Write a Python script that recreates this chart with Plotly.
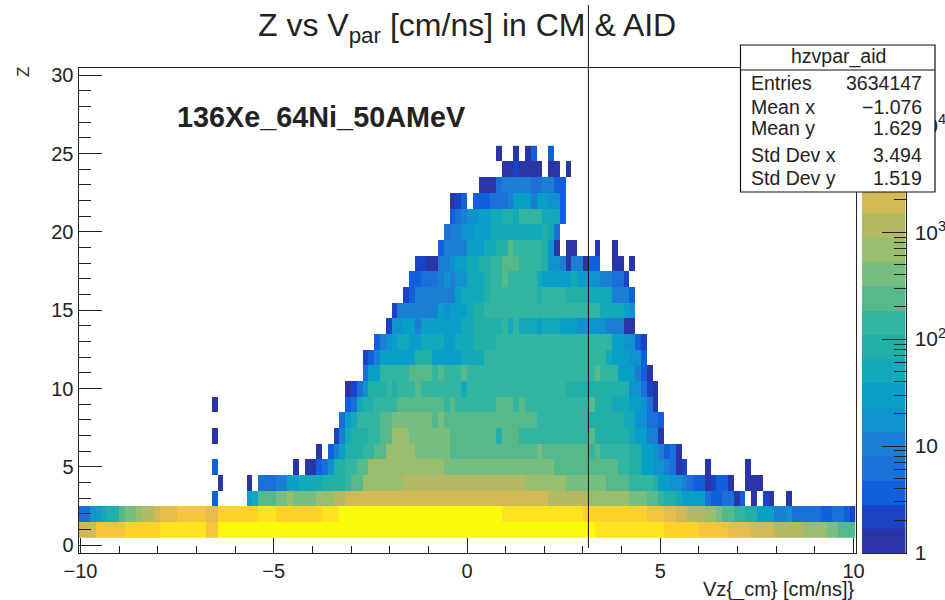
import numpy as np
import plotly.graph_objects as go

# Band colours of the palette, bottom (1 count) to top
band_colors = ["#2a35a8","#1a42c4","#105fdc","#1a70d8","#1c7ed2","#0f92cd","#08a0c8","#12aabb","#22afa8","#33b4a0",
               "#55b98c","#78be80","#98be6e","#b4b964","#d2b955","#e6bd4b","#f5c63c","#ffd22a","#fde41e","#fafa0a"]
# Estimated counts that stand for each band
band_counts = [1.3,2.2,3.8,6.4,11,19,32,54,92,156,265,450,770,1300,2200,3800,6500,11000,19000,29000]
x_tick_vals = [-10,-5,0,5,10]
y_tick_vals = [0,5,10,15,20,25,30]
cbar_tick_vals = [0,1,2,3,4]
cbar_tick_text = ["1","10","10<sup>2</sup>","10<sup>3</sup>","10<sup>4</sup>"]

# Each row: (first bin, last bin, band); 134 velocity bins of 0.15 from -10.05
z01 = [(0,2,15),(3,7,17),(8,13,18),(14,21,19),(22,23,17),(24,88,20),(89,100,19),(101,106,18),(107,111,17),(112,115,16),(116,119,15),(120,124,14),(125,128,13),(129,130,12),(131,133,11)]
z02 = [(0,1,4),(2,2,6),(3,3,7),(4,4,8),(5,6,9),(7,7,11),(8,9,12),(10,10,13),(11,12,14),(13,13,15),(14,16,16),(17,21,17),(22,23,16),(24,30,18),(31,33,19),(34,41,18),(42,44,19),(45,72,20),(73,86,19),(87,97,18),(98,100,17),(101,102,16),(103,104,15),(105,107,14),(108,109,13),(110,110,12),(111,112,11),(113,114,10),(115,116,9),(117,119,7),(120,121,5),(122,122,6),(123,127,4),(128,129,3),(130,131,4),(132,132,3),(133,133,2)]
z03 = [(23,23,3),(29,29,7),(30,30,8),(31,33,11),(34,35,12),(36,36,13),(37,40,12),(41,43,13),(44,45,14),(46,80,15),(81,87,14),(88,94,13),(95,97,12),(98,99,11),(100,100,10),(101,102,9),(103,103,8),(104,107,7),(108,108,4),(109,110,3),(111,112,4),(113,113,1),(114,114,3),(116,116,1),(118,118,2),(119,119,1),(122,122,1)]
z04 = [(24,24,1),(29,29,1),(31,33,4),(34,35,5),(36,37,7),(38,41,8),(42,45,9),(46,46,10),(47,48,11),(49,55,13),(56,76,14),(77,83,13),(84,90,12),(91,94,11),(95,98,10),(99,99,9),(100,101,7),(102,103,6),(104,104,5),(105,105,4),(106,107,3),(108,108,1),(109,109,2),(110,111,3),(112,112,1),(115,117,1)]
z05 = [(23,23,3),(37,37,1),(39,40,1),(41,41,3),(42,42,4),(43,43,6),(44,45,9),(46,47,10),(48,49,11),(50,62,13),(63,81,12),(82,92,11),(93,94,10),(95,96,9),(97,98,7),(99,100,6),(101,101,5),(102,102,4),(103,103,1),(104,104,2),(108,108,1),(115,115,1)]
z06 = [(41,41,1),(43,43,3),(44,44,5),(45,45,7),(46,48,9),(49,50,10),(51,52,11),(53,57,13),(58,63,12),(64,77,11),(78,78,11),(79,79,12),(80,87,11),(88,88,10),(89,89,11),(90,94,10),(95,96,9),(97,98,7),(99,99,6),(100,100,5),(101,101,3),(102,102,4),(103,103,1)]
z07 = [(23,23,1),(44,44,2),(45,45,5),(46,46,8),(47,49,9),(50,51,10),(52,53,11),(54,56,13),(57,63,12),(64,71,11),(72,72,9),(73,75,11),(76,87,10),(88,88,11),(89,94,9),(95,95,8),(96,97,7),(98,99,5),(100,100,1)]
z08 = [(45,45,4),(46,46,7),(47,47,8),(48,51,10),(52,53,11),(54,60,12),(61,61,11),(62,62,12),(63,78,11),(79,87,10),(88,93,9),(94,95,8),(96,97,6),(98,99,4),(100,100,3)]
z09 = [(23,23,1),(46,46,3),(47,47,4),(48,48,8),(49,50,9),(51,54,10),(55,62,11),(63,63,10),(64,64,11),(65,71,10),(72,74,11),(75,75,10),(76,76,11),(77,87,10),(88,88,11),(89,91,9),(92,94,8),(95,96,7),(97,97,6),(98,98,4),(99,99,1)]
z10 = [(46,46,1),(47,47,2),(48,48,4),(49,49,6),(50,52,9),(53,53,10),(54,54,9),(55,57,10),(58,58,11),(59,65,10),(66,66,8),(67,83,10),(84,94,9),(95,96,6),(97,97,4),(98,98,2),(99,99,1)]
z11 = [(49,49,4),(50,51,7),(52,56,10),(57,60,11),(61,61,10),(62,62,11),(63,65,10),(66,66,11),(67,88,10),(89,89,11),(90,92,10),(93,95,7),(96,96,5),(97,97,3),(98,98,1)]
z12 = [(49,49,2),(50,50,3),(51,51,5),(52,57,7),(58,60,9),(61,65,7),(66,69,8),(70,90,10),(91,91,8),(92,94,7),(95,96,6),(97,97,3)]
z13 = [(51,51,3),(52,52,5),(53,53,6),(54,54,7),(55,56,8),(57,58,7),(59,62,8),(63,64,7),(65,67,8),(68,71,9),(72,91,10),(92,93,7),(94,95,6),(96,96,3),(97,97,2)]
z14 = [(53,53,2),(54,55,6),(56,57,7),(58,58,5),(59,65,7),(66,67,8),(68,72,9),(73,73,10),(74,74,8),(75,75,10),(76,78,8),(79,79,7),(80,82,8),(83,85,7),(86,90,6),(91,93,5),(94,95,1)]
z15 = [(54,54,2),(55,61,5),(62,62,7),(63,63,6),(64,66,7),(67,67,8),(68,69,9),(70,89,10),(90,93,8),(94,94,7),(95,95,6)]
z16 = [(56,56,2),(57,57,3),(58,64,5),(65,65,7),(66,69,8),(70,70,9),(71,78,10),(79,79,9),(80,83,10),(84,87,9),(88,91,8),(92,94,5),(95,95,3)]
z17 = [(57,58,3),(59,61,4),(62,62,5),(63,63,6),(64,64,5),(65,66,6),(67,69,8),(70,70,9),(71,72,10),(73,73,11),(74,78,10),(79,79,8),(80,84,7),(85,85,8),(86,87,7),(88,89,6),(90,91,5),(92,93,4),(94,94,2)]
z18 = [(58,59,2),(60,61,1),(62,63,5),(64,64,6),(65,66,7),(67,68,8),(69,70,9),(71,72,10),(73,75,11),(76,79,10),(80,80,9),(81,82,6),(83,83,5),(84,84,1),(85,86,5),(87,87,1),(88,89,3),(92,93,1),(95,95,1)]
z19 = [(62,62,3),(63,66,5),(67,69,7),(70,71,8),(72,73,9),(74,74,11),(75,79,10),(80,80,9),(81,81,6),(82,82,1),(84,85,1),(89,89,1),(92,92,1)]
z20 = [(63,63,4),(64,65,5),(66,67,6),(68,70,7),(71,79,8),(80,80,9),(81,81,8),(82,82,4)]
z21 = [(64,64,3),(65,65,4),(66,66,5),(67,68,6),(69,70,7),(71,72,8),(73,74,9),(75,75,8),(76,79,10),(80,82,8),(83,83,3)]
z22 = [(64,64,1),(65,65,2),(66,66,3),(68,70,3),(71,73,4),(74,74,5),(75,77,7),(78,78,5),(79,80,7),(81,82,6),(83,83,3)]
z23 = [(69,71,1),(72,72,4),(73,77,5),(78,79,4),(80,81,5),(82,83,3)]
z24 = [(73,74,1),(75,75,2),(76,79,1),(81,82,1),(84,84,1)]
z25 = [(72,72,1),(75,75,1),(77,77,1),(78,78,3),(81,81,3)]
rows = [z01,z02,z03,z04,z05,z06,z07,z08,z09,z10,z11,z12,z13,z14,z15,z16,z17,z18,z19,z20,z21,z22,z23,z24,z25]

zmax = 4.54
grid = [[None]*134 for _ in rows]
for r, runs in enumerate(rows):
    for first, last, band in runs:
        for i in range(first, last+1):
            grid[r][i] = float(np.log10(band_counts[band-1]))

n = len(band_colors)
cs = []
for k, c in enumerate(band_colors):
    cs += [[k/n, c], [(k+1)/n, c]]

W, H = 945, 600
L, R, T, B = 78.5, 855.5, 67.5, 553.0
CL, CR = 862.0, 905.5
px = lambda v: v/W
py = lambda v: 1-v/H

fig = go.Figure()
fig.add_trace(go.Heatmap(z=grid, x0=-10.05+0.075, dx=0.15, y0=1, dy=1, colorscale=cs, zmin=0, zmax=zmax,
                         showscale=False, hoverongaps=False, xaxis="x", yaxis="y"))
band_edges = [zmax*k/n for k in range(n+1)]
band_mid = [[(band_edges[k]+band_edges[k+1])/2] for k in range(n)]
fig.add_trace(go.Heatmap(z=band_mid, x=[0,1], y=band_edges, colorscale=cs, zmin=0, zmax=zmax,
                         showscale=False, xaxis="x2", yaxis="y2"))

tickf = dict(family="Liberation Sans", size=20, color="#222")
fig.update_layout(
    width=W, height=H, margin=dict(l=0,r=0,t=0,b=0,autoexpand=False), paper_bgcolor="white", plot_bgcolor="white", showlegend=False,
    xaxis=dict(domain=[px(L),px(R)], range=[-10.05,10.05], tickvals=x_tick_vals, ticks="inside", ticklen=15, tickwidth=1,
               tickcolor="#222", showgrid=False, zeroline=False, showline=True, linecolor="#222", linewidth=1, mirror=True,
               tickfont=tickf, minor=dict(dtick=1, tick0=0, ticks="inside", ticklen=7, tickcolor="#222", tickwidth=1, showgrid=False),
               anchor="y"),
    yaxis=dict(domain=[py(B),py(T)], range=[-0.5,30.5], tickvals=y_tick_vals, ticks="inside", ticklen=23, tickwidth=1,
               tickcolor="#222", showgrid=False, zeroline=False, showline=True, linecolor="#222", linewidth=1, mirror=True,
               tickfont=tickf, minor=dict(dtick=1, tick0=0, ticks="inside", ticklen=12, tickcolor="#222", tickwidth=1, showgrid=False),
               anchor="x"),
    xaxis2=dict(domain=[px(CL),px(CR)], range=[0,1], showticklabels=False, ticks="", showgrid=False, zeroline=False,
                showline=True, linecolor="#222", linewidth=1, anchor="y2"),
    yaxis2=dict(domain=[py(B),py(T)], range=[0,zmax], side="right", anchor="x2", tickvals=cbar_tick_vals, ticktext=cbar_tick_text,
                ticks="inside", ticklen=24, tickwidth=1, tickcolor="#222", showgrid=False, zeroline=False, showline=True,
                linecolor="#222", linewidth=1, tickfont=dict(family="Liberation Sans", size=21, color="#222"), ticklabelstandoff=4,
                minor=dict(tickvals=[float(np.log10(m*10**d)) for d in range(4) for m in range(2,10)], ticks="inside",
                           ticklen=12, tickcolor="#222", tickwidth=1, showgrid=False)),
)

black = "#111"
fig.add_shape(type="line", xref="x", yref="paper", x0=3.14, x1=3.14, y0=py(548), y1=py(5), line=dict(color=black,width=1), layer="above")
fig.add_shape(type="rect", xref="paper", yref="paper", x0=px(740.5), x1=px(935), y0=py(192), y1=py(45), fillcolor="white", line=dict(color=black,width=1.2), layer="above")
fig.add_shape(type="line", xref="paper", yref="paper", x0=px(740.5), x1=px(935), y0=py(70), y1=py(70), line=dict(color=black,width=1.2), layer="above")

def text(s, x, y, size, anchor="center", bold=False, angle=0):
    fig.add_annotation(text=f"<b>{s}</b>" if bold else s, xref="paper", yref="paper", x=px(x), y=py(y), showarrow=False,
                       xanchor=anchor, yanchor="middle", textangle=angle, borderpad=0,
                       font=dict(family="Liberation Sans", size=size, color="#222"))

text("Z vs V<sub>par</sub> [cm/ns] in CM &amp; AID", 467, 28, 32)
text("136Xe_64Ni_50AMeV", 176, 117, 28.8, anchor="left", bold=True)
text("Z", 23, 72, 17, angle=-90)
text("Vz{_cm} [cm/ns]}", 855, 589, 20, anchor="right")
text("hzvpar_aid", 838, 56, 19.5)
stats = [("Entries","3634147",83),("Mean x","\u22121.076",107),("Mean y","1.629",128),("Std Dev x","3.494",155),("Std Dev y","1.519",178)]
for name, val, y in stats:
    text(name, 750, y, 19.5, anchor="left")
    text(val, 923, y, 19.5, anchor="right")

fig.write_html("out.html", config={"displayModeBar": False},
               post_script="document.body.style.margin='0';document.documentElement.style.overflow='hidden';")
